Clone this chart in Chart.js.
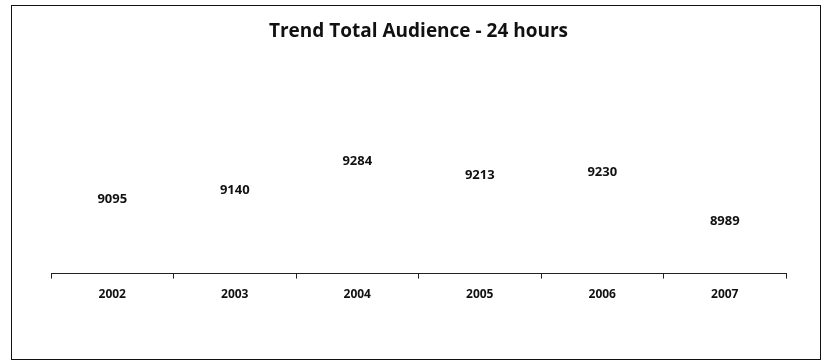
<!DOCTYPE html>
<html>
<head>
<meta charset="utf-8">
<script src="https://cdn.jsdelivr.net/npm/chart.js@4/dist/chart.umd.min.js"></script>
<style>
    html, body { margin: 0; padding: 0; background: #fff; }
    #wrap { position: relative; width: 825px; height: 362px; }
    #frame {
        position: absolute; left: 11px; top: 5px; width: 810px; height: 355px;
        border: 1px solid #111; box-sizing: border-box; pointer-events: none;
    }
</style>
</head>
<body>
<div id="wrap">
    <canvas id="trendChart" width="825" height="362"></canvas>
    <div id="frame"></div>
</div>
<script>
// chart data
const years = ['2002', '2003', '2004', '2005', '2006', '2007'];
const audience = [9095, 9140, 9284, 9213, 9230, 8989];
const chartTitle = 'Trend Total Audience - 24 hours';

const fontFamily = "'Open Sans', 'DejaVu Sans', sans-serif";

// draws the value above each (invisible) point
const valueLabels = {
    id: 'valueLabels',
    afterDatasetsDraw(chart) {
        const ctx = chart.ctx;
        const meta = chart.getDatasetMeta(0);
        ctx.save();
        ctx.font = 'bold 13px ' + fontFamily;
        ctx.fillStyle = '#111';
        ctx.textAlign = 'center';
        ctx.textBaseline = 'middle';
        meta.data.forEach(function (pt, i) {
            ctx.fillText(String(chart.data.datasets[0].data[i]), pt.x, pt.y - 10);
        });
        ctx.restore();
    }
};

document.addEventListener('DOMContentLoaded', function () {
    const el = document.getElementById('trendChart');
    new Chart(el, {
        type: 'line',
        data: {
            labels: years,
            datasets: [{
                label: 'Audience',
                data: audience,
                showLine: false,
                pointRadius: 0,
                borderColor: 'rgba(0,0,0,0)',
                backgroundColor: 'rgba(0,0,0,0)'
            }]
        },
        options: {
            responsive: false,
            animation: false,
            layout: { padding: { left: 51, right: 39, top: 0, bottom: 51 } },
            plugins: {
                legend: { display: false },
                tooltip: { enabled: false },
                title: {
                    display: true,
                    text: chartTitle,
                    color: '#111',
                    font: { family: fontFamily, size: 19, weight: 'bold' },
                    padding: { top: 20, bottom: 20 }
                }
            },
            scales: {
                x: {
                    offset: true,
                    border: { display: true, color: '#222', width: 1 },
                    grid: {
                        offset: true,
                        drawOnChartArea: false,
                        drawTicks: true,
                        tickLength: 5,
                        color: '#222'
                    },
                    ticks: {
                        color: '#111',
                        padding: 9,
                        font: { family: fontFamily, size: 12, weight: 'bold' }
                    }
                },
                y: {
                    display: false,
                    min: 8782,
                    max: 9814
                }
            }
        },
        plugins: [valueLabels]
    });
});
</script>
</body>
</html>
